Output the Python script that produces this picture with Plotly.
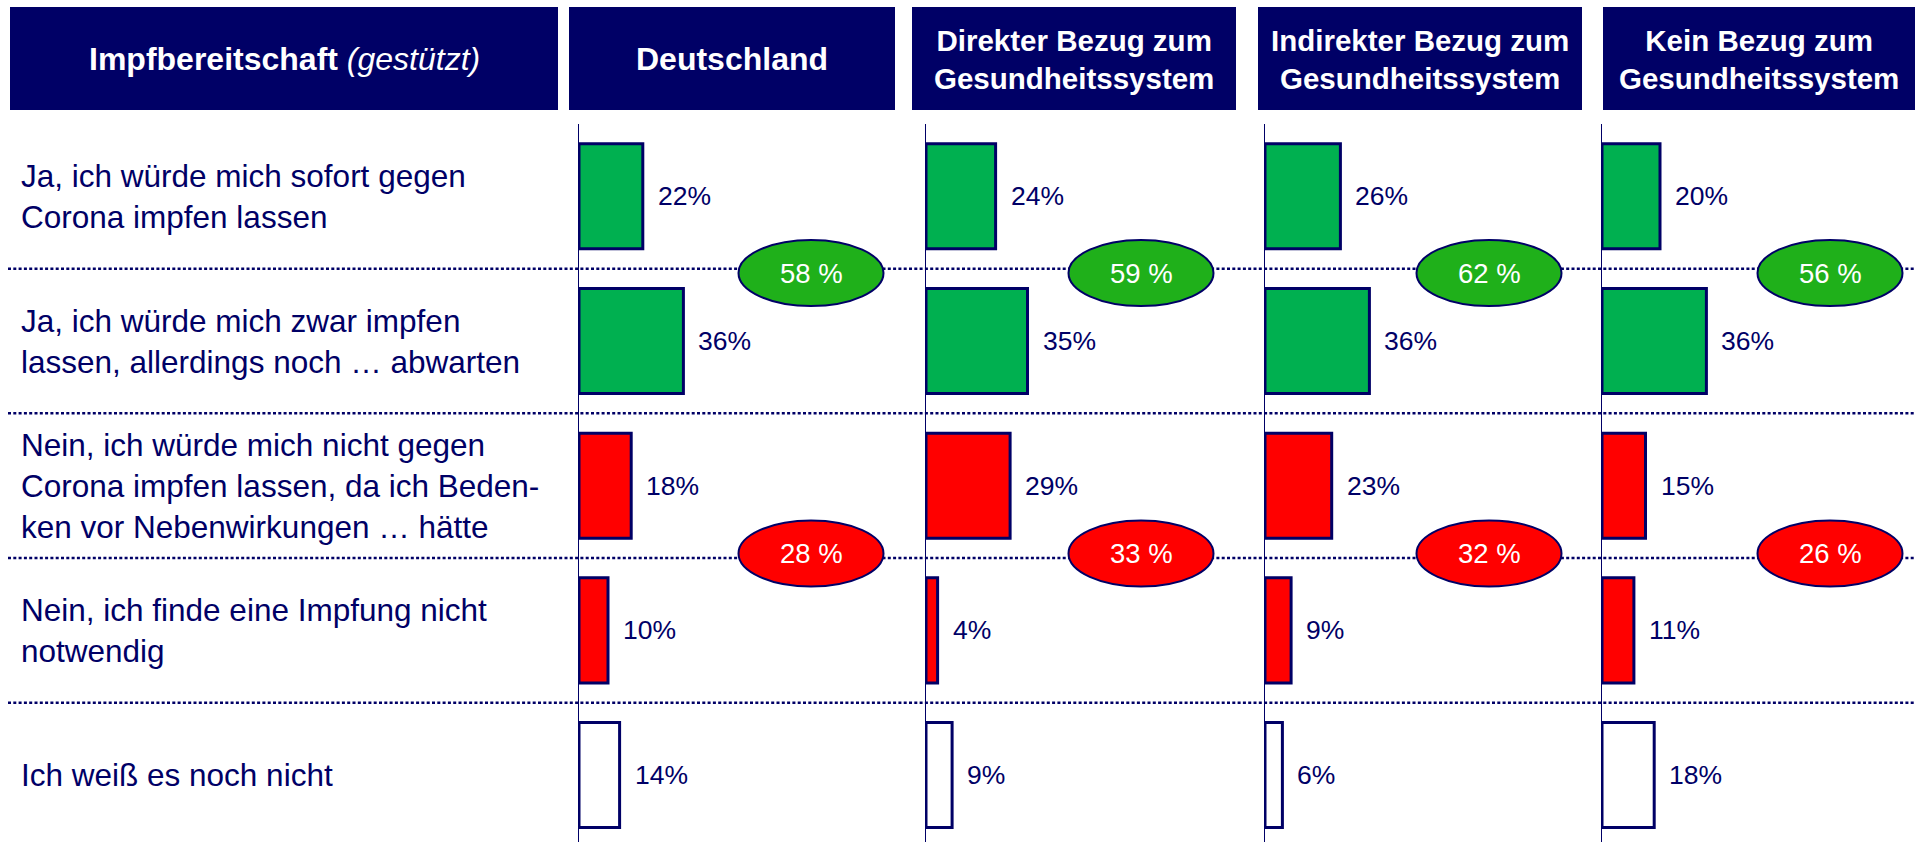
import plotly.graph_objects as go

# ---------------- data ----------------
answers = [
    "Ja, ich würde mich sofort gegen<br>Corona impfen lassen",
    "Ja, ich würde mich zwar impfen<br>lassen, allerdings noch … abwarten",
    "Nein, ich würde mich nicht gegen<br>Corona impfen lassen, da ich Beden-<br>ken vor Nebenwirkungen … hätte",
    "Nein, ich finde eine Impfung nicht<br>notwendig",
    "Ich weiß es noch nicht",
]
groups = [
    "Deutschland",
    "Direkter Bezug zum<br>Gesundheitssystem",
    "Indirekter Bezug zum<br>Gesundheitssystem",
    "Kein Bezug zum<br>Gesundheitssystem",
]
deutschland = [22, 36, 18, 10, 14]
direkt = [24, 35, 29, 4, 9]
indirekt = [26, 36, 23, 9, 6]
kein = [20, 36, 15, 11, 18]
series = [deutschland, direkt, indirekt, kein]
total_ja = [58, 59, 62, 56]
total_nein = [28, 33, 32, 26]
row_kind = ["ja", "ja", "nein", "nein", "weiss"]

# ---------------- styling ----------------
W, H = 1921, 842
NAVY = "#000066"
GREEN = "#00B050"
GREEN_OVAL = "#1FB01A"
RED = "#FF0000"
FONT = "Arial, Liberation Sans, sans-serif"
kind_color = {"ja": GREEN, "nein": RED, "weiss": "#FFFFFF"}

def px(x):
    return x / W

def py(y):
    return 1 - y / H

axis_px = [579, 926, 1265, 1602]   # pixel x of zero line of each panel
panel_w = 310                      # panel width in px
px_per_pct = 2.9
x_max = panel_w / px_per_pct
plot_top = 124
row_pitch = 144.64
first_row_center = 196.5
y_bottom_val = (H - first_row_center) / row_pitch
bar_width = 105 / row_pitch

fig = go.Figure()
layout = dict(
    width=W, height=H,
    margin=dict(l=0, r=0, t=0, b=0),
    paper_bgcolor="white", plot_bgcolor="rgba(0,0,0,0)",
    showlegend=False,
    font=dict(family=FONT, color=NAVY),
)

ys = list(range(len(answers)))
annotations = []
shapes = []

for i, vals in enumerate(series):
    xa = "x" if i == 0 else f"x{i+1}"
    ya = "y" if i == 0 else f"y{i+1}"
    fig.add_trace(go.Bar(
        x=vals, y=ys, orientation="h", width=bar_width,
        marker=dict(color=[kind_color[k] for k in row_kind],
                    line=dict(color=NAVY, width=3)),
        xaxis=xa, yaxis=ya, hoverinfo="skip",
    ))
    xkey = "xaxis" if i == 0 else f"xaxis{i+1}"
    ykey = "yaxis" if i == 0 else f"yaxis{i+1}"
    layout[xkey] = dict(
        domain=[px(axis_px[i]), px(axis_px[i] + panel_w)],
        range=[0, x_max], visible=False, anchor=ya, fixedrange=True,
    )
    layout[ykey] = dict(
        domain=[0, py(plot_top)], range=[y_bottom_val, -0.5],
        anchor=xa, showline=True, linecolor=NAVY, linewidth=1,
        showticklabels=False, showgrid=False, zeroline=False, ticks="",
        fixedrange=True,
    )
    # value labels
    for r, v in enumerate(vals):
        annotations.append(dict(
            x=v, y=r, xref=xa, yref=ya, text=f"{v}%", showarrow=False,
            xanchor="left", yanchor="middle", xshift=13,
            font=dict(size=26.5, color=NAVY, family=FONT),
        ))

# row labels
for r, lab in enumerate(answers):
    annotations.append(dict(
        x=px(19), y=r, xref="paper", yref="y", text=lab, showarrow=False,
        xanchor="left", yanchor="middle", align="left",
        font=dict(size=31.5, color=NAVY, family=FONT),
    ))

# header boxes
header_boxes = [(10, 558), (569, 895), (912, 1236), (1258, 1582), (1603, 1915)]
header_texts = ["<b>Impfbereitschaft</b> <i>(gestützt)</i>"] + ["<b>" + g + "</b>" for g in groups]
header_sizes = [32, 32, 29.5, 29.5, 29.5]
for (x0, x1), txt, fs in zip(header_boxes, header_texts, header_sizes):
    shapes.append(dict(type="rect", xref="paper", yref="paper",
                       x0=px(x0), x1=px(x1), y0=py(110), y1=py(7),
                       fillcolor=NAVY, line=dict(width=0), layer="above"))
    annotations.append(dict(
        x=px((x0 + x1) / 2), y=py(59), xref="paper", yref="paper",
        text=txt, showarrow=False, xanchor="center", yanchor="middle",
        align="center", font=dict(size=fs, color="white", family=FONT),
    ))

# dotted separators
for yv in [0.5, 1.5, 2.5, 3.5]:
    shapes.append(dict(type="line", xref="paper", yref="y",
                       x0=px(8), x1=px(1915), y0=yv, y1=yv,
                       line=dict(color=NAVY, width=2.5, dash="3px,2.3px"), layer="above"))

# summary ovals
oval_cx = [811, 1141, 1489, 1830]
oval_w, oval_h = 145, 66
for i in range(len(groups)):
    for cy, col, tot in [(273, GREEN_OVAL, total_ja[i]), (553.5, RED, total_nein[i])]:
        cx = oval_cx[i]
        shapes.append(dict(type="circle", xref="paper", yref="paper",
                           x0=px(cx - oval_w / 2), x1=px(cx + oval_w / 2),
                           y0=py(cy + oval_h / 2), y1=py(cy - oval_h / 2),
                           fillcolor=col, line=dict(color=NAVY, width=2),
                           layer="above"))
        annotations.append(dict(
            x=px(cx), y=py(cy), xref="paper", yref="paper",
            text=f"{tot} %", showarrow=False, xanchor="center", yanchor="middle",
            font=dict(size=27.5, color="white", family=FONT),
        ))

layout["annotations"] = annotations
layout["shapes"] = shapes
fig.update_layout(**layout)
fig.write_html(
    "out.html",
    config={"displayModeBar": False},
    post_script="document.body.style.margin='0';document.body.style.overflow='hidden';",
)
